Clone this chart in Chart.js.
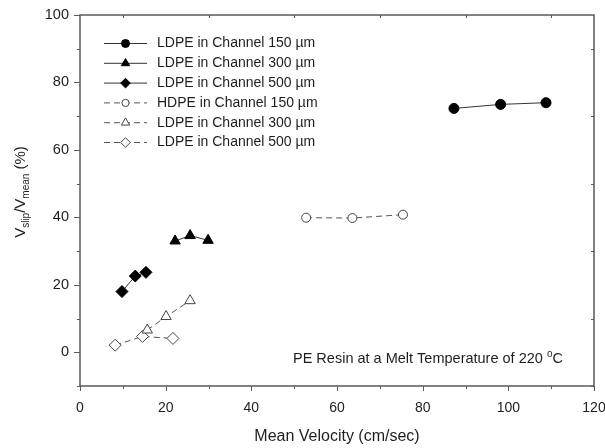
<!DOCTYPE html>
<html>
<head>
<meta charset="utf-8">
<script src="https://cdn.jsdelivr.net/npm/chart.js@4/dist/chart.umd.min.js"></script>
<style>
  html, body { margin: 0; padding: 0; background: #fff; }
  #wrap { width: 605px; height: 448px; }
</style>
</head>
<body>
<div id="wrap"><canvas id="slipChart" width="605" height="448"></canvas></div>
<script>
// Values
const ldpe150X  = [87.3, 98.2, 108.8];
const ldpe150Y  = [72.3, 73.5, 74.0];
const ldpe300X  = [22.2, 25.7, 29.9];
const ldpe300Y  = [33.0, 34.6, 33.2];
const ldpe500X  = [9.8, 12.9, 15.4];
const ldpe500Y  = [18.0, 22.6, 23.7];
const hdpe150X  = [52.8, 63.6, 75.4];
const hdpe150Y  = [39.9, 39.8, 40.8];
const ldpe300oX = [15.7, 20.1, 25.7];
const ldpe300oY = [6.6, 10.6, 15.3];
const ldpe500oX = [8.2, 14.6, 21.7];
const ldpe500oY = [2.1, 4.7, 4.1];

const seriesLabels = [
    'LDPE in Channel 150 \u00b5m',
    'LDPE in Channel 300 \u00b5m',
    'LDPE in Channel 500 \u00b5m',
    'HDPE in Channel 150 \u00b5m',
    'LDPE in Channel 300 \u00b5m',
    'LDPE in Channel 500 \u00b5m',
];

const xMin = 0, xMax = 120, xMajor = 20, xMinor = 10;
const yMin = -10, yMax = 100, yMajor = 20, yMinor = 10;

const FONT = '"Liberation Sans", Arial, sans-serif';
const INK = '#1e1e1e';
const FRAME = '#5a5a5a';

const pts = (xs, ys) => xs.map((x, i) => ({ x, y: ys[i] }));

function series(label, xs, ys, style, filled, radius) {
    return {
        label,
        data: pts(xs, ys),
        showLine: true,
        borderColor: filled ? '#333' : '#555',
        borderWidth: 1,
        borderDash: filled ? [] : [6, 4],
        pointStyle: style,
        pointRadius: radius,
        pointHoverRadius: radius,
        pointBackgroundColor: filled ? '#000' : '#fff',
        pointBorderColor: filled ? '#000' : '#444',
        pointBorderWidth: 1,
    };
}

const datasets = [
    series(seriesLabels[0], ldpe150X, ldpe150Y, 'circle', true, 5),
    series(seriesLabels[1], ldpe300X, ldpe300Y, 'triangle', true, 6),
    series(seriesLabels[2], ldpe500X, ldpe500Y, 'rectRot', true, 6),
    series(seriesLabels[3], hdpe150X, hdpe150Y, 'circle', false, 4.5),
    series(seriesLabels[4], ldpe300oX, ldpe300oY, 'triangle', false, 6),
    series(seriesLabels[5], ldpe500oX, ldpe500oY, 'rectRot', false, 6),
];

// Frame, tick marks, axis titles, legend and annotation
const decorPlugin = {
    id: 'decor',
    afterDraw(chart) {
        const { ctx, chartArea: a, scales } = chart;
        const xs = scales.x, ys = scales.y;
        ctx.save();

        // frame
        ctx.strokeStyle = FRAME;
        ctx.lineWidth = 1.5;
        ctx.strokeRect(a.left, a.top, a.right - a.left, a.bottom - a.top);

        // ticks
        ctx.lineWidth = 1;
        ctx.beginPath();
        for (let v = xMin; v <= xMax; v += xMinor) {
            const px = Math.round(xs.getPixelForValue(v)) + 0.5;
            const major = v % xMajor === 0;
            ctx.moveTo(px, a.bottom);
            ctx.lineTo(px, a.bottom + (major ? 5 : 3));
            if (!major) { ctx.moveTo(px, a.top); ctx.lineTo(px, a.top + 3); }
        }
        for (let v = yMin; v <= yMax; v += yMinor) {
            const py = Math.round(ys.getPixelForValue(v)) + 0.5;
            const major = v % yMajor === 0;
            ctx.moveTo(a.left, py);
            ctx.lineTo(a.left - (major ? 6 : 3), py);
            if (!major) { ctx.moveTo(a.right, py); ctx.lineTo(a.right - 3, py); }
        }
        ctx.stroke();

        // x title
        ctx.fillStyle = INK;
        ctx.font = '16px ' + FONT;
        ctx.textAlign = 'center';
        ctx.textBaseline = 'alphabetic';
        ctx.fillText('Mean Velocity (cm/sec)', (a.left + a.right) / 2, 441);

        // y title with subscripts
        ctx.save();
        ctx.translate(25, 192);
        ctx.rotate(-Math.PI / 2);
        const parts = [
            ['V', 15, 0], ['slip', 10, 4], ['/V', 15, 0], ['mean', 10, 4], [' (%)', 15, 0],
        ];
        let total = 0;
        parts.forEach(p => { ctx.font = p[1] + 'px ' + FONT; total += ctx.measureText(p[0]).width; });
        let cx = -total / 2;
        ctx.textAlign = 'left';
        parts.forEach(p => {
            ctx.font = p[1] + 'px ' + FONT;
            ctx.fillText(p[0], cx, p[2]);
            cx += ctx.measureText(p[0]).width;
        });
        ctx.restore();

        // annotation
        ctx.font = '14.5px ' + FONT;
        ctx.textAlign = 'left';
        const t1 = 'PE Resin at a Melt Temperature of 220 ';
        const ax = 293, ay = 363;
        ctx.fillText(t1, ax, ay);
        let w = ctx.measureText(t1).width;
        ctx.font = '10px ' + FONT;
        ctx.fillText('o', ax + w, ay - 6);
        w += ctx.measureText('o').width;
        ctx.font = '14.5px ' + FONT;
        ctx.fillText('C', ax + w, ay);

        // legend
        const lx0 = a.left + 24, lx1 = a.left + 67, tx = a.left + 77;
        chart.data.datasets.forEach((ds, i) => {
            const y = a.top + 28.5 + i * 19.8;
            ctx.strokeStyle = ds.borderColor;
            ctx.lineWidth = 1;
            ctx.setLineDash(ds.borderDash);
            ctx.beginPath();
            ctx.moveTo(lx0, y);
            ctx.lineTo(lx1, y);
            ctx.stroke();
            ctx.setLineDash([]);
            ctx.fillStyle = ds.pointBackgroundColor;
            ctx.strokeStyle = ds.pointBorderColor;
            ctx.lineWidth = ds.pointBorderWidth;
            Chart.helpers.drawPoint(ctx, {
                pointStyle: ds.pointStyle, radius: ds.pointRadius * 0.8, rotation: 0, borderWidth: 1,
            }, (lx0 + lx1) / 2, y);
            ctx.fillStyle = INK;
            ctx.font = '14px ' + FONT;
            ctx.textAlign = 'left';
            ctx.textBaseline = 'middle';
            ctx.fillText(ds.label, tx, y);
        });

        ctx.restore();
    },
};

new Chart(document.getElementById('slipChart'), {
    type: 'scatter',
    data: { datasets },
    options: {
        responsive: false,
        animation: false,
        layout: { padding: { top: 15, right: 11, left: 0, bottom: 0 } },
        plugins: { legend: { display: false }, tooltip: { enabled: false } },
        scales: {
            x: {
                type: 'linear', min: xMin, max: xMax,
                grid: { display: false, drawTicks: false },
                border: { display: false },
                ticks: {
                    stepSize: xMinor, padding: 14, color: INK,
                    font: { family: FONT, size: 14 },
                    callback: v => (v % xMajor === 0 ? v : ''),
                },
                afterFit: s => { s.height = 62; s.paddingLeft = 0; s.paddingRight = 0; },
            },
            y: {
                type: 'linear', min: yMin, max: yMax,
                grid: { display: false, drawTicks: false },
                border: { display: false },
                ticks: {
                    stepSize: yMinor, padding: 11, color: INK,
                    font: { family: FONT, size: 14.5 },
                    callback: v => (v % yMajor === 0 ? v : ''),
                },
                afterFit: s => { s.width = 80; s.paddingTop = 0; s.paddingBottom = 0; },
            },
        },
    },
    plugins: [decorPlugin],
});
</script>
</body>
</html>
